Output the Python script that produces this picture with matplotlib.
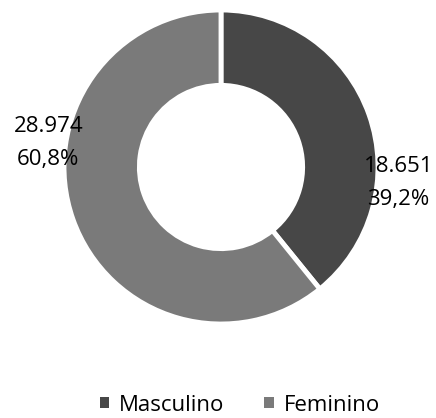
import matplotlib.pyplot as plt
from matplotlib.patches import Patch

labels = ["Masculino", "Feminino"]
counts = [18651, 28974]
count_txt = ["18.651", "28.974"]
pct_txt = ["39,2%", "60,8%"]
colors = ["#474747", "#7a7a7a"]

plt.rcParams['font.family'] = ['Open Sans', 'DejaVu Sans']

fig = plt.figure(figsize=(4.36, 4.18), dpi=100)
ax = fig.add_axes([64 / 436, 94 / 418, 314 / 436, 314 / 418])

wedges, _ = ax.pie(counts, colors=colors, startangle=90, counterclock=False,
                   radius=1.0, wedgeprops=dict(width=0.48, edgecolor="white", linewidth=3.5))
ax.set_xlim(-1, 1)
ax.set_ylim(-1, 1)
ax.set_aspect("equal")

ax.text(1.13, -0.10, count_txt[0] + "\n" + pct_txt[0], ha="center", va="center",
        fontsize=16, linespacing=1.75)
ax.text(-1.10, 0.155, count_txt[1] + "\n" + pct_txt[1], ha="center", va="center",
        fontsize=16, linespacing=1.75)

handles = [Patch(facecolor=c, edgecolor="none") for c in colors]
fig.legend(handles, labels, loc="center", bbox_to_anchor=(0.55, 0.031), ncol=2,
           frameon=False, fontsize=16, handlelength=0.42, handleheight=0.42,
           columnspacing=1.8, handletextpad=0.45, borderpad=0)

fig.savefig("out.png", dpi=100)
